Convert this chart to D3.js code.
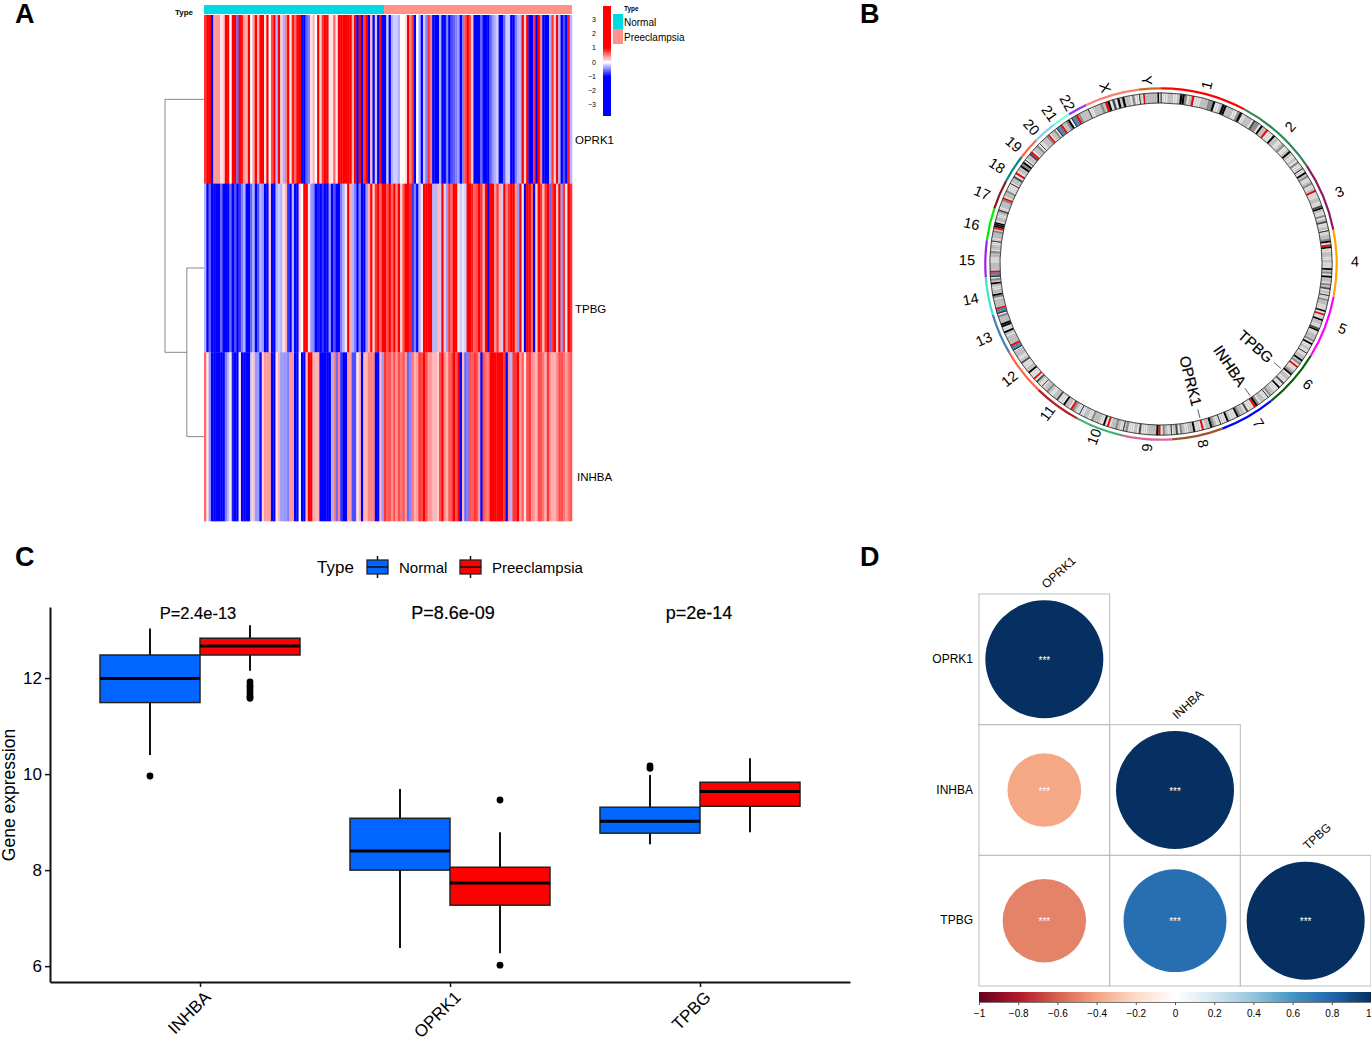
<!DOCTYPE html>
<meta charset="utf-8">
<html>
<head>
<script src="https://d3js.org/d3.v7.min.js"></script>
<style>
  body { margin: 0; background: #fff; }
  svg { display: block; font-family: "Liberation Sans", Arial, sans-serif; }
  text { fill: #000; }
</style>
</head>
<body>
<div id="viz"></div>
<script>
// ---------- data ----------
// panel A
const heatGenes = ["OPRK1", "TPBG", "INHBA"];
const heatTypes = ["Normal", "Preeclampsia"];
const heatTicks = [3, 2, 1, 0, -1, -2, -3];
const oprk1Normal = [.8,1.5,1.5,-1.5,.4,.4,.4,.1,.2,1.5,1.5,0,1.5,1,-.6,1.5,.9,.4,.3,1.5,0,.4,1.5,.3,1.5,1.5,.1,1.5,0,.7,1.5,-.3,1.5,.2,-.3,.5,1.5,.1,.9,.6,1.5,1.5,-1.5,-1.5,-.6,-.5,.1,.3,0,1.5,.2,.8,1.5,1.5,.1,.1,.6,.1,1.5,1.5,1.5,1.5,1.5,1.5,.3,1.5,-1.5,1.5,-1,.8,1.5,-1.5,.3,-1.5,-.2,-1.5,1.5,-1.5];
const oprk1Pre = [-1.5,-.2,-1.5,-.3,-.2,-.2,-.3,0,0,.1,1.5,.5,.8,-1.5,0,-.3,-1.5,-.2,-.5,.8,.5,-1.5,-1.5,-1.5,-.3,-1.5,-1.5,-.5,-1.5,-.7,-.6,-.5,-.4,-1.5,-.5,.7,1.5,.7,.2,-1.5,-1,-1.5,-.6,-1.5,-1.5,-1.5,-.6,-.4,-.3,-.2,-1.5,-1.5,-.6,-.2,-.2,-1.5,-1.5,-.5,-.3,-.3,1.5,.2,1.5,-1,-1.5,.8,-1.5,1.5,.5,-1.5,-1.5,-1.5,-.3,.8,.2,1.5,-.3,-1.5,-.7,-1.5,.9,-.3];
const tpbgNormal = [-.3,-1.5,-.6,-1.5,-1.5,-1.5,-1.5,-.6,-1.5,-1.5,-1.5,-.6,-1,-.7,-1.5,-.8,-.5,-.3,-1.5,-1.5,-.6,-.3,-1.5,-.7,-.3,-.4,-1.5,-1.5,.2,-1.5,-1.5,-.3,-.2,-.3,.1,.3,-.8,-1.5,-.3,-1.5,-1.5,.2,0,1.5,1.5,.1,-.4,-.5,-1.5,-.9,-1.5,-.8,-1.5,-1.5,-.4,-1.5,-.7,-1.5,-1.5,-.5,-.3,.1,1,.3,-.3,-.5,-1.5,-.5,-1.5,-1.5,-.4,.3,1.5,.2,.8,1.5,.6,1.5];
const tpbgPre = [1.5,.7,1.5,.6,1.5,.5,1.5,.2,.7,1.5,1.5,.9,-.8,-.5,-1.5,-.3,.1,1.5,1.5,1.5,1.5,-.3,-.3,.3,-.2,1.5,.2,-.4,.8,.6,1.5,1.5,.1,-.2,-.1,-.2,1.5,1.5,.9,.6,.7,1.5,.8,.3,1.5,-1.5,1.5,1.5,.4,.8,.3,-.2,1.5,.5,.8,1.5,1.5,.4,-.4,1.5,.1,-1.5,1.5,1.5,.6,-1.5,.2,1.5,.8,.3,.8,1.5,-.6,.8,1.5,.2,1.5,-.4,.8,.1,1.5,.8];
const inhbaNormal = [.6,.1,-.4,-1.5,-1.5,-1.5,-1.5,-1.5,-1.5,-.5,-.3,.1,-.9,-1,-1,.1,-1.5,-1.5,-1.5,-1.5,-.2,.2,-.4,-.4,-1.5,.2,.4,.4,.4,-1.5,-1.5,.1,.3,-.4,-.4,-.4,-.5,.4,.4,-1.5,-1.5,0,-1.5,-1.5,.3,1.5,1.5,.3,.3,.3,-1.5,-1.5,-1.5,-1.5,-1.5,-.3,.5,-.6,.5,-.8,-1.5,-1.5,.4,.4,-.7,-.7,.1,.3,-1.5,.3,.3,.5,.5,.5,-1.5,-1.5,.3,-.4];
const inhbaPre = [.8,.65,.7,.45,.7,.4,.7,.55,.7,.4,-.6,-.5,.55,.3,.4,.8,.7,1.5,.7,.4,.4,.3,.3,.2,.7,1.5,.45,.3,.65,.7,1.5,.7,1.5,-1.5,.3,-.6,-.5,.7,.65,.8,.7,.4,-1.5,.7,.55,.55,1.5,1.5,1.5,1.5,1.5,1.2,.8,-1,.45,-.3,.8,.8,1.5,.4,.65,.1,.7,.8,.45,.4,.3,.7,.7,.55,.3,.8,.45,.3,.3,.45,.7,.7,.55,.4,.55,.65];
const dendroMerges = [["TPBG", "INHBA", .44], ["OPRK1", "TPBG+INHBA", 1]];

// panel B
const chromNames = ["1","2","3","4","5","6","7","8","9","10","11","12","13","14","15","16","17","18","19","20","21","22","X","Y"];
const chromLengths = [249,243,198,191,181,171,159,146,141,135,135,133,115,107,102,90,81,78,59,63,48,51,155,59];
const chromColors = ["#ff0000","#2e8b57","#8b1a5e","#ffa500","#ff00ff","#006400","#0000ff","#a0522d","#d8689b","#3cb371","#b22222","#ff6347","#4682b4","#40e0d0","#a020f0","#00ee00","#8b1a1a","#008b8b","#ff6347","#87ceeb","#7fffd4","#9b30ff","#fa8072","#d2691e"];
// one character per band: 0-5 light to black, r centromere, b stalk
const chromBands = [
  "1112211255312r111222335112552221135",
  "1122214331522r11152211231125211213112",
  "115231123112r11122114521131241121",
  "1122351r5112211211152315221324121",
  "1132211151r1152211451122231511211",
  "11225231r112351221141151112231",
  "1122135r11141223511125111",
  "11235221r11152211231421",
  "11231r5222211141211132",
  "1123221r15112223112211",
  "1123r12251114221123221",
  "11241r11152211142112221",
  "bbr2222125115522231",
  "bbr2222135221125231",
  "bbr222211122312211",
  "1122232r5551221123",
  "112223r12231111",
  "12241r1225351",
  "1224r12231",
  "112223r12231",
  "bbr22350",
  "bbr32222",
  "1122232r5141525221311",
  "11r222222251"
];
const geneNames = ["TPBG", "INHBA", "OPRK1"];
const geneChroms = ["6", "7", "8"];
const genePositions = [83, 41, 54];

// panel C
const boxGenes = ["INHBA", "OPRK1", "TPBG"];
const boxGroups = ["Normal", "Preeclampsia"];
const boxColors = ["#0066ff", "#ff0000"];
const boxYTicks = [6, 8, 10, 12];
const pLabels = ["P=2.4e-13", "P=8.6e-09", "p=2e-14"];
// whisker low, q1, median, q3, whisker high
const inhbaBox = [[10.40, 11.49, 11.99, 12.48, 13.03], [12.15, 12.48, 12.67, 12.83, 13.10]];
const oprk1Box = [[6.38, 8.00, 8.40, 9.08, 9.69], [6.27, 7.27, 7.73, 8.06, 8.79]];
const tpbgBox = [[8.54, 8.77, 9.02, 9.31, 9.98], [8.79, 9.33, 9.64, 9.83, 10.33]];
const inhbaOutliers = [[9.96], [11.92, 11.85, 11.80, 11.74, 11.68, 11.62, 11.58]];
const oprk1Outliers = [[], [9.46, 6.02]];
const tpbgOutliers = [[10.17, 10.12], []];

// panel D
const corrGenes = ["OPRK1", "INHBA", "TPBG"];
const corrValues = [[1], [-0.39, 1], [-0.5, 0.76, 1]];
const corrTicks = [-1, -.8, -.6, -.4, -.2, 0, .2, .4, .6, .8, 1];
const rdBu = ["#67001f","#b2182b","#d6604d","#f4a582","#fddbc7","#ffffff","#d1e5f0","#92c5de","#4393c3","#2166ac","#053061"];

const svg = d3.select("#viz").append("svg").attr("width", 1371).attr("height", 1042);

// panel letters
[["A", 15, 23], ["B", 860, 23], ["C", 15, 566], ["D", 860, 566]].forEach(p => {
  svg.append("text").attr("x", p[1]).attr("y", p[2]).attr("font-size", 27).attr("font-weight", "bold").text(p[0]);
});

// ---------- A: heatmap ----------
const heat = svg.append("g");
const heatColor = d3.scaleLinear([-1, 0, 1], ["#0000ff", "#ffffff", "#ff0000"]).clamp(true);
const typeColor = d3.scaleOrdinal(heatTypes, ["#00dae0", "#ff9289"]);
const yRow = d3.scaleBand(heatGenes, [15, 521]);
const typeX = d3.scaleOrdinal(heatTypes, [[204, 384], [384, 572]]);
const heatRows = [[oprk1Normal, oprk1Pre], [tpbgNormal, tpbgPre], [inhbaNormal, inhbaPre]];

heatGenes.forEach((gene, r) => {
  heatTypes.forEach((type, t) => {
    const vals = heatRows[r][t];
    const x = d3.scaleBand(d3.range(vals.length), typeX(type));
    heat.append("g").selectAll("rect").data(vals).join("rect")
      .attr("x", (d, i) => x(i))
      .attr("width", x.bandwidth() + .3)
      .attr("y", yRow(gene))
      .attr("height", yRow.bandwidth() + .3)
      .attr("fill", d => heatColor(d));
  });
});

heatTypes.forEach(type => {
  heat.append("rect").attr("x", typeX(type)[0]).attr("y", 5)
    .attr("width", typeX(type)[1] - typeX(type)[0]).attr("height", 9)
    .attr("fill", typeColor(type));
});
heat.append("text").attr("x", 193).attr("y", 15).attr("text-anchor", "end")
  .attr("font-size", 8).attr("font-weight", "bold").text("Type");

// row labels sit below the row centre in the original
const rowLabelX = { OPRK1: 575, TPBG: 575, INHBA: 577 };
heatGenes.forEach(gene => {
  heat.append("text").attr("x", rowLabelX[gene]).attr("y", yRow(gene) + yRow.bandwidth() / 2 + 44.5)
    .attr("font-size", 11.5).text(gene);
});

// dendrogram, merge height runs from the heatmap edge to the left
const xMerge = d3.scaleLinear([0, 1], [204, 165]);
const nodeY = {};
heatGenes.forEach(g => { nodeY[g] = yRow(g) + yRow.bandwidth() / 2; });
const nodeH = {};
dendroMerges.forEach(m => {
  const x0 = xMerge(m[2]);
  const path = d3.path();
  path.moveTo(xMerge(nodeH[m[0]] || 0), nodeY[m[0]]);
  path.lineTo(x0, nodeY[m[0]]);
  path.lineTo(x0, nodeY[m[1]]);
  path.lineTo(xMerge(nodeH[m[1]] || 0), nodeY[m[1]]);
  heat.append("path").attr("d", path.toString()).attr("fill", "none").attr("stroke", "#888").attr("stroke-width", 1);
  const key = m[0] + "+" + m[1];
  nodeY[key] = (nodeY[m[0]] + nodeY[m[1]]) / 2;
  nodeH[key] = m[2];
});

// colour key
const yKey = d3.scaleLinear([0, 1], [62, 47.75]);
const keySteps = d3.range(-3.72, 3.93, .04);
heat.append("g").attr("shape-rendering", "crispEdges").selectAll("rect").data(keySteps).join("rect")
  .attr("x", 603).attr("width", 8)
  .attr("y", d => yKey(d + .04)).attr("height", yKey(0) - yKey(.04) + .5)
  .attr("fill", d => heatColor(d));
heat.append("g").selectAll("text").data(heatTicks).join("text")
  .attr("x", 596).attr("y", d => yKey(d) + 2.5).attr("text-anchor", "end").attr("font-size", 7)
  .text(d => d3.format("d")(d));
heat.append("text").attr("x", 624).attr("y", 10.5).attr("font-size", 6.5).attr("font-weight", "bold").text("Type");
heatTypes.forEach((type, i) => {
  heat.append("rect").attr("x", 613).attr("y", 14 + i * 15).attr("width", 10).attr("height", 15).attr("fill", typeColor(type));
  heat.append("text").attr("x", 624).attr("y", 25.5 + i * 15).attr("font-size", 10).text(type);
});

// ---------- B: chromosome circle ----------
const circle = svg.append("g").attr("transform", "translate(1161,264)");
const pie = d3.pie().sort(null).padAngle(.012);
const chromArcs = pie(chromLengths);
const ringArc = d3.arc().innerRadius(174.6).outerRadius(176.8);
const ideoArc = d3.arc().innerRadius(161).outerRadius(171.2);
const grey = { "0": "#ffffff", "1": "#e8e8e8", "2": "#c8c8c8", "3": "#8c8c8c", "4": "#4a4a4a", "5": "#000000", r: "#ff0000", b: "#4682b4" };
const toDeg = a => a * 180 / Math.PI;
const polar = (a, r) => [r * Math.sin(a), -r * Math.cos(a)];

chromArcs.forEach((c, i) => {
  circle.append("path").attr("d", ringArc({ startAngle: c.startAngle, endAngle: c.endAngle })).attr("fill", chromColors[i]);
  const bands = chromBands[i].split("");
  const xBand = d3.scaleBand(d3.range(bands.length), [c.startAngle, c.endAngle]);
  circle.append("g").selectAll("path").data(bands).join("path")
    .attr("d", (d, j) => ideoArc({ startAngle: xBand(j), endAngle: xBand(j) + xBand.bandwidth() }))
    .attr("fill", d => grey[d])
    .attr("stroke", "#666").attr("stroke-width", .2);
  circle.append("path").attr("d", ideoArc({ startAngle: c.startAngle, endAngle: c.endAngle }))
    .attr("fill", "none").attr("stroke", "#111").attr("stroke-width", .7);
  const mid = (c.startAngle + c.endAngle) / 2 - .009;
  // labels lie a little wider than tall around the ring
  const pos = [194 * Math.sin(mid), -184 * Math.cos(mid)];
  const deg = toDeg(mid);
  const rot = deg < 180 ? deg - 90 : deg - 270;
  circle.append("text").attr("transform", `translate(${pos}) rotate(${rot})`)
    .attr("text-anchor", "middle").attr("dy", "0.35em").attr("font-size", 14.5).text(chromNames[i]);
});

geneNames.forEach((g, i) => {
  const c = chromArcs[chromNames.indexOf(geneChroms[i])];
  const ang = d3.scaleLinear([0, c.data], [c.startAngle, c.endAngle])(genePositions[i]);
  const p0 = polar(ang, 150), p1 = polar(ang, 159), t = polar(ang, 146);
  circle.append("line").attr("x1", p0[0]).attr("y1", p0[1]).attr("x2", p1[0]).attr("y2", p1[1])
    .attr("stroke", "#333").attr("stroke-width", .8);
  circle.append("text").attr("transform", `translate(${t}) rotate(${toDeg(ang) - 90})`)
    .attr("text-anchor", "end").attr("dy", "0.35em").attr("font-size", 15)
    .attr("stroke", "#000").attr("stroke-width", .2).text(g);
});

// ---------- C: boxplots ----------
const box = svg.append("g");
const xGene = d3.scalePoint(boxGenes, [50, 850]).padding(.6);
const yExpr = d3.scaleLinear([5.67, 13.48], [982, 607]);
const xGroup = d3.scaleBand(boxGroups, [-100, 100]);
const boxStats = [inhbaBox, oprk1Box, tpbgBox];
const boxOutliers = [inhbaOutliers, oprk1Outliers, tpbgOutliers];
const pLabelSize = [16.5, 18, 18];

boxGenes.forEach((gene, g) => {
  boxGroups.forEach((group, k) => {
    const s = boxStats[g][k];
    const x0 = xGene(gene) + xGroup(group);
    const w = xGroup.bandwidth();
    const xm = x0 + w / 2;
    box.append("line").attr("x1", xm).attr("x2", xm).attr("y1", yExpr(s[0])).attr("y2", yExpr(s[4]))
      .attr("stroke", "#111").attr("stroke-width", 2);
    box.append("rect").attr("x", x0).attr("width", w).attr("y", yExpr(s[3])).attr("height", yExpr(s[1]) - yExpr(s[3]))
      .attr("fill", boxColors[k]).attr("stroke", "#222").attr("stroke-width", 1.5);
    box.append("line").attr("x1", x0).attr("x2", x0 + w).attr("y1", yExpr(s[2])).attr("y2", yExpr(s[2]))
      .attr("stroke", "#000").attr("stroke-width", 3);
    box.append("g").selectAll("circle").data(boxOutliers[g][k]).join("circle")
      .attr("cx", xm).attr("cy", d => yExpr(d)).attr("r", 3.4).attr("fill", "#000");
  });
  box.append("text").attr("x", xGene(gene) + [-2, 3, -1][g]).attr("y", 619).attr("text-anchor", "middle")
    .attr("font-size", pLabelSize[g]).attr("stroke", "#000").attr("stroke-width", .2).text(pLabels[g]);
});

const yAxisC = box.append("g").attr("transform", "translate(50,0)")
  .call(d3.axisLeft(yExpr).tickValues(boxYTicks).tickSize(5).tickSizeOuter(0).tickPadding(3));
const xAxisC = box.append("g").attr("transform", "translate(0,982)")
  .call(d3.axisBottom(xGene).tickSize(5).tickSizeOuter(0));
[yAxisC, xAxisC].forEach(a => {
  a.select(".domain").attr("stroke", "#111").attr("stroke-width", 2);
  a.selectAll(".tick line").attr("stroke", "#111").attr("stroke-width", 1.5);
  a.selectAll("text").attr("font-family", "Liberation Sans").attr("font-size", 17).attr("fill", "#1a1a1a");
});
xAxisC.selectAll(".tick text")
  .attr("text-anchor", "end")
  .attr("transform", "translate(2,7) rotate(-45)")
  .attr("dy", "0.6em").attr("y", 3);
box.append("text").attr("transform", "translate(15,795) rotate(-90)").attr("text-anchor", "middle")
  .attr("font-size", 17.5).text("Gene expression");

box.append("text").attr("x", 317).attr("y", 573).attr("font-size", 17).text("Type");
const legendX = [367, 460];
const legendLabelX = [399, 492];
boxGroups.forEach((group, k) => {
  const x0 = legendX[k];
  box.append("line").attr("x1", x0 + 10.5).attr("x2", x0 + 10.5).attr("y1", 556).attr("y2", 578).attr("stroke", "#111").attr("stroke-width", 1.5);
  box.append("rect").attr("x", x0).attr("y", 560).attr("width", 21).attr("height", 14)
    .attr("fill", boxColors[k]).attr("stroke", "#222").attr("stroke-width", 1.3);
  box.append("line").attr("x1", x0).attr("x2", x0 + 21).attr("y1", 567).attr("y2", 567).attr("stroke", "#111").attr("stroke-width", 1.5);
  box.append("text").attr("x", legendLabelX[k]).attr("y", 572.5).attr("font-size", 15).text(group);
});

// ---------- D: correlation matrix ----------
const corr = svg.append("g");
const xCorr = d3.scaleBand(corrGenes, [979, 1371]);
const yCorr = d3.scaleBand(corrGenes, [594, 986]);
const corrColor = d3.scaleLinear(corrTicks, rdBu);
const rCorr = d3.scaleSqrt([0, 1], [0, 59]);

corrGenes.forEach((rowGene, i) => {
  corrValues[i].forEach((v, j) => {
    const colGene = corrGenes[j];
    const cx = xCorr(colGene) + xCorr.bandwidth() / 2;
    const cy = yCorr(rowGene) + yCorr.bandwidth() / 2;
    corr.append("rect").attr("x", xCorr(colGene)).attr("y", yCorr(rowGene))
      .attr("width", xCorr.bandwidth()).attr("height", yCorr.bandwidth())
      .attr("fill", "none").attr("stroke", "#bdbdbd").attr("stroke-width", 1);
    corr.append("circle").attr("cx", cx).attr("cy", cy).attr("r", rCorr(Math.abs(v))).attr("fill", corrColor(v));
    corr.append("text").attr("x", cx).attr("y", cy + 4.5).attr("text-anchor", "middle")
      .attr("font-size", 10).style("fill", "#fff").text("***");
  });
  corr.append("text").attr("x", 973).attr("y", yCorr(rowGene) + yCorr.bandwidth() / 2 + 3.5)
    .attr("text-anchor", "end").attr("font-size", 12).text(rowGene);
  const tx = xCorr(rowGene) + xCorr.bandwidth() / 2 + 2;
  const ty = yCorr(rowGene) - 5;
  corr.append("text").attr("transform", `translate(${tx},${ty}) rotate(-42)`).attr("font-size", 12).text(rowGene);
});

const xBar = d3.scaleLinear([-1, 1], [979, 1371]);
const barSteps = d3.range(-1, 1, .005);
corr.append("g").attr("shape-rendering", "crispEdges").selectAll("rect").data(barSteps).join("rect")
  .attr("x", d => xBar(d)).attr("width", xBar(.005) - xBar(0) + .5)
  .attr("y", 992).attr("height", 10)
  .attr("fill", d => corrColor(d));
const barAxis = corr.append("g").attr("transform", "translate(0,1002)")
  .call(d3.axisBottom(xBar).tickValues(corrTicks).tickSize(3).tickPadding(5).tickFormat(d3.format("")));
barAxis.select(".domain").attr("stroke", "#777");
barAxis.selectAll(".tick line").attr("stroke", "#555");
barAxis.selectAll("text").attr("font-family", "Liberation Sans").attr("font-size", 10).attr("fill", "#222");
// last label would run off the page edge, hang it from the tick instead
barAxis.selectAll(".tick text").filter(d => d === 1).attr("text-anchor", "end");
</script>
</body>
</html>
